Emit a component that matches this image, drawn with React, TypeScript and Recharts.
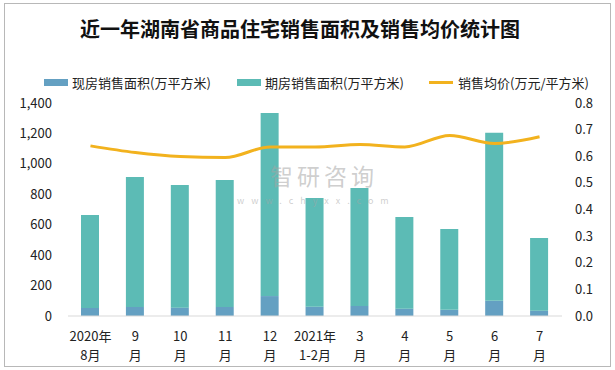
import React from 'react';
import { ComposedChart, Bar, Line, XAxis, YAxis } from 'recharts';

const months = ['2020年\n8月', '9\n月', '10\n月', '11\n月', '12\n月', '2021年\n1-2月', '3\n月', '4\n月', '5\n月', '6\n月', '7\n月'];
const spotArea = [53, 59, 55, 59, 131, 61, 66, 48, 41, 100, 35];
const futureArea = [611, 855, 806, 835, 1203, 715, 775, 603, 531, 1105, 478];
const avgPrice = [0.639, 0.614, 0.599, 0.595, 0.635, 0.635, 0.644, 0.635, 0.678, 0.648, 0.673];
const leftTicks = [0, 200, 400, 600, 800, 1000, 1200, 1400];
const rightTicks = [0, 0.1, 0.2, 0.3, 0.4, 0.5, 0.6, 0.7, 0.8];
const seriesNames = ['现房销售面积(万平方米)', '期房销售面积(万平方米)', '销售均价(万元/平方米)'];

const spotColor = '#64a0c2';
const futureColor = '#5cbbb5';
const priceColor = '#f2b21e';
const font = '"Noto Sans CJK SC", "Noto Sans", sans-serif';

const chartData = months.map((m, i) => ({
  month: m,
  spot: spotArea[i],
  future: futureArea[i],
  price: avgPrice[i],
}));

const MonthTick = ({ x, y, payload }: any) => {
  const lines = String(payload.value).split('\n');
  return (
    <g transform={`translate(${x},${y})`}>
      {lines.map((t, i) => (
        <text key={i} x={0} y={17 + i * 19} textAnchor="middle" fill="#222" fontSize={13} fontFamily={font}>
          {t}
        </text>
      ))}
    </g>
  );
};

// legend is laid out by hand, the reference spaces the three entries unevenly
const legendItems = [
  { name: seriesNames[0], color: spotColor, type: 'rect', left: 44 },
  { name: seriesNames[1], color: futureColor, type: 'rect', left: 237 },
  { name: seriesNames[2], color: priceColor, type: 'line', left: 429 },
];

const wmColor = 'rgba(165,165,165,0.55)';

export default function App() {
  return (
    <div style={{ position: 'absolute', left: 0, top: 0, width: 615, height: 370, background: '#fff' }}>
      <div style={{ position: 'absolute', left: 4, top: 3, width: 605, height: 362, border: '1px solid #b8b8b8' }} />
      <div style={{ position: 'absolute', left: 0, top: 14, width: 600, textAlign: 'center', fontSize: 20, fontWeight: 700, fontFamily: font, color: '#111' }}>
        近一年湖南省商品住宅销售面积及销售均价统计图
      </div>
      {legendItems.map((it) => (
        <div key={it.name} style={{ position: 'absolute', left: it.left, top: 73, display: 'flex', alignItems: 'center', fontSize: 13, color: '#222', fontFamily: font }}>
          <span style={{ display: 'inline-block', width: 24, height: it.type === 'line' ? 3 : 7, background: it.color, marginRight: it.type === 'line' ? 5 : 4 }} />
          <span>{it.name}</span>
        </div>
      ))}
      <ComposedChart width={615} height={370} data={chartData} margin={{ top: 103, right: 10, bottom: 10, left: 10 }} barSize={18}>
        <XAxis dataKey="month" tick={<MonthTick />} tickLine={false} axisLine={{ stroke: '#d9d9d9' }} height={44} interval={0} />
        <YAxis yAxisId="left" width={58} domain={[0, 1400]} ticks={leftTicks} axisLine={false} tickLine={false} tickMargin={10}
          tickFormatter={(v: number) => v.toLocaleString('en-US')} tick={{ fill: '#222', fontSize: 13, fontFamily: font }} />
        <YAxis yAxisId="right" orientation="right" width={43} domain={[0, 0.8]} ticks={rightTicks} axisLine={false} tickLine={false} tickMargin={7}
          tickFormatter={(v: number) => v.toFixed(1)} tick={{ fill: '#222', fontSize: 13, fontFamily: font, textAnchor: 'start' }} />
        <Bar yAxisId="left" dataKey="spot" name={seriesNames[0]} stackId="a" fill={spotColor} isAnimationActive={false} />
        <Bar yAxisId="left" dataKey="future" name={seriesNames[1]} stackId="a" fill={futureColor} isAnimationActive={false} />
        <Line yAxisId="right" dataKey="price" name={seriesNames[2]} type="monotone" stroke={priceColor} strokeWidth={3} dot={false} isAnimationActive={false} />
      </ComposedChart>
      {/* watermark */}
      <div style={{ position: 'absolute', left: 270, top: 164, pointerEvents: 'none', fontFamily: font, color: wmColor, fontSize: 23, letterSpacing: 4, lineHeight: '23px' }}>
        智研咨询
      </div>
      <div style={{ position: 'absolute', left: 237, top: 196, pointerEvents: 'none', fontFamily: font, color: wmColor, fontSize: 9, letterSpacing: 7, lineHeight: '9px' }}>
        www.chyxx.com
      </div>
    </div>
  );
}
